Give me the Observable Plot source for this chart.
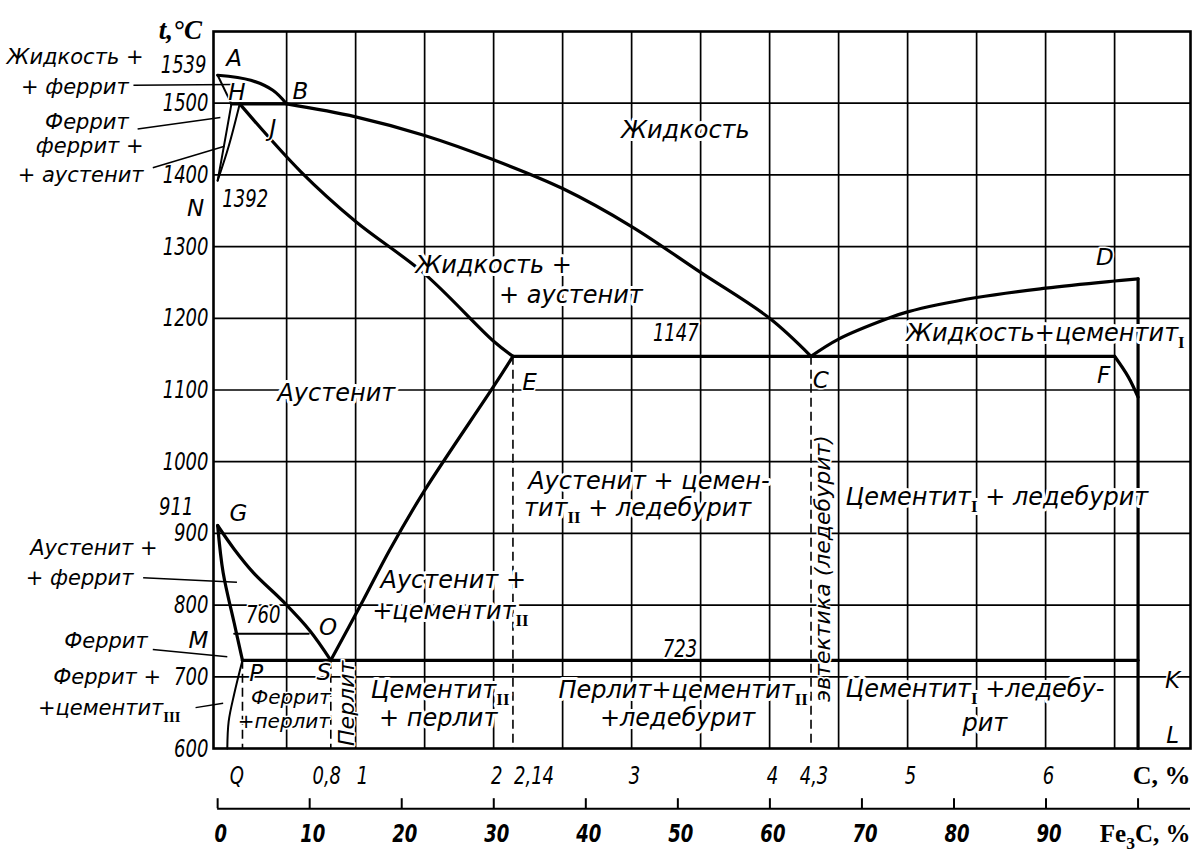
<!DOCTYPE html>
<html><head><meta charset="utf-8">
<script src="https://cdn.jsdelivr.net/npm/d3@7"></script>
<script src="https://cdn.jsdelivr.net/npm/@observablehq/plot@0.6"></script>
<style>body{margin:0;background:#fff}</style>
</head><body><div id="chart"></div>
<script>
// ---------- data (C, % ; temperature, °C) ----------
const C_FE3C = 6.67;
const gridC = [0.5,1,1.5,2,2.5,3,3.5,4,4.5,5,5.5,6,6.5];
const gridT = [700,800,900,1000,1100,1200,1300,1400,1500];
const tTicks = [600,700,800,900,1000,1100,1200,1300,1400,1500];
const cTicks = [2,3,4,4.3,5,6];
const cTickLabels = ["2","3","4","4,3","5","6"];
const cTickS = [0.8];
const cTickSLabels = ["0,8"];
const cTickStart = [1,2.14];
const cTickStartLabels = ["1","2,14"];
const fe3cTicks = [0,10,20,30,40,50,60,70,80,90];
const fe3cMarks = [0,10,20,30,40,50,60,70,80,90,100];

const lineAB = [[0,1539],[0.24,1532],[0.4,1518],[0.5,1499]];
const lineBC = [[0.5,1499],[1.0,1481],[1.5,1455],[2.0,1421],[2.5,1381],[3.0,1328],[3.5,1264],[4.0,1200],[4.3,1147]];
const lineCD = [[4.3,1147],[4.5,1171],[4.86,1200],[5.0,1209],[5.5,1229],[6.0,1242],[6.5,1252],[6.67,1255]];
const lineAH = [[0,1539],[0.1,1499]];
const lineHN = [[0.1,1499],[0.05,1445],[0,1392]];
const lineJN = [[0.16,1499],[0.08,1440],[0,1392]];
const lineHJB = [[0.1,1499],[0.5,1499]];
const lineJE = [[0.16,1499],[0.6,1405],[1.0,1335],[1.5,1262],[2.0,1168],[2.14,1147]];
const lineECF = [[2.14,1147],[6.5,1147]];
const lineFK = [[6.5,1147],[6.6,1118],[6.67,1090]];
const lineDL = [[6.67,1255],[6.67,600]];
const lineGS = [[0,911],[0.12,878],[0.26,845],[0.48,804],[0.67,764],[0.82,723]];
const lineGP = [[0,911],[0.04,845],[0.12,775],[0.18,723]];
const linePQ = [[0.18,723],[0.12,676],[0.08,638],[0.07,600]];
const lineMO = [[0.12,760],[0.66,760]];
const lineSE = [[0.82,723],[1.05,805],[1.25,878],[1.5,960],[2.0,1105],[2.14,1147]];
const linePSK = [[0.18,723],[6.67,723]];
const dashedC = [0.18,0.82,2.14,4.3];
const dashedTop = [723,723,1147,1147];

const centerLabels = [
  ["Жидкость",3.39,1462],["Жидкость +",2.0,1274],["+ аустенит",2.56,1232],
  ["Аустенит",0.86,1095],["рит",5.56,635]];
const smallCenterLabels = [["Феррит",0.53,671],["+перлит",0.48,637]];
const startLabels = [
  ["Жидкость+цементит_{I}",4.99,1179],["Аустенит + цемен-",2.25,972],
  ["тит_{II} + ледебурит",2.22,935],["Цементит_{I} + ледебурит",4.55,950],
  ["Аустенит +",1.18,834],["+цементит_{II}",1.12,792],["Цементит_{II}",1.11,681],
  ["+ перлит",1.17,642],["Перлит+цементит_{II}",2.47,681],["+ледебурит",2.77,642],
  ["Цементит_{I} +ледебу-",4.55,683]];
const rotatedLabels = [["Перлит",0.94,663],["эвтектика (ледебурит)",4.39,851]];
const leftLabels = [
  ["Жидкость +",-0.537,1564],["+ феррит",-0.645,1522],["Феррит",-0.645,1474],
  ["феррит +",-0.537,1440],["+ аустенит",-0.537,1399],["Аустенит +",-0.435,879],
  ["+ феррит",-0.61,838],["Феррит",-0.507,749],["Феррит +",-0.41,699],
  ["+цементит_{III}",-0.269,656]];
const pointLabels = [["A",0.12,1562],["B",0.6,1516],["H",0.14,1515],["J",0.4,1465],
  ["N",-0.16,1353],["G",0.15,928],["M",-0.14,751],["P",0.28,705],["S",0.77,706],
  ["O",0.8,769],["E",2.26,1110],["C",4.37,1113],["F",6.42,1120],["D",6.43,1285],
  ["K",6.92,695],["L",6.92,618]];
const numberLabels = [["1392",0.2,1367],["760",0.33,786],["723",3.35,739],["1147",3.32,1179]];
const leaders = [[-0.61,1525,0.12,1526],[-0.58,1464,0.02,1480],[-0.47,1410,0.05,1440],
  [-0.54,838,0.14,832],[-0.47,738,0.07,728],[-0.16,657,0.04,663]];

// ---------- build ----------
const solid = [["AB",lineAB],["BC",lineBC],["CD",lineCD],["HJB",lineHJB],["JE",lineJE],
  ["ECF",lineECF],["FK",lineFK],["DL",lineDL],["GS",lineGS],["GP",lineGP],["SE",lineSE],["PSK",linePSK]]
  .flatMap(([id,pts]) => pts.map(([c,t]) => ({id,c,t})));
const thin = [["AH",lineAH],["HN",lineHN],["JN",lineJN],["PQ",linePQ],["MO",lineMO]]
  .flatMap(([id,pts]) => pts.map(([c,t]) => ({id,c,t})));

const SANS = "'DejaVu Sans', sans-serif";
const NARROW = "'DejaVu Sans', 'Narrow', sans-serif";
const SERIF = "'Liberation Serif', 'DejaVu Serif', serif";
const halo = {stroke: "white", strokeWidth: 6, paintOrder: "stroke", fill: "black"};
const num = {fontFamily: NARROW, fontStyle: "italic", fontSize: 25};

const plot = Plot.plot({
  width: 1198, height: 859,
  marginLeft: 213, marginRight: 8, marginTop: 31, marginBottom: 111,
  x: {domain: [-0.03, 7.05], axis: null},
  y: {domain: [600, 1600], axis: null},
  marks: [
    Plot.ruleX(gridC, {stroke: "black", strokeWidth: 1.7}),
    Plot.ruleY(gridT, {stroke: "black", strokeWidth: 1.7}),
    Plot.frame({stroke: "black", strokeWidth: 2.6}),
    Plot.ruleX(dashedC, {x: d => d, y1: (d,i) => dashedTop[i], y2: 600, stroke: "black", strokeWidth: 1.6, strokeDasharray: "9,5"}),
    Plot.line(thin, {x: "c", y: "t", z: "id", curve: "catmull-rom", stroke: "black", strokeWidth: 2}),
    Plot.line(solid, {x: "c", y: "t", z: "id", curve: "catmull-rom", stroke: "black", strokeWidth: 3.2}),
    Plot.link(leaders, {x1: d => d[0], y1: d => d[1], x2: d => d[2], y2: d => d[3], stroke: "black", strokeWidth: 1.5}),
    // Fe3C axis
    Plot.ruleY([516], {x1: 0, x2: 7.05, stroke: "black", strokeWidth: 2}),
    Plot.ruleX(fe3cMarks, {x: v => v * C_FE3C / 100, y1: 516, y2: 530, stroke: "black", strokeWidth: 2}),
    Plot.text(fe3cTicks, {x: v => v * C_FE3C / 100, y: 481, text: d => String(d), ...num, fontWeight: "bold", dx: 3}),
    Plot.text(["Fe_{3}C, %"], {x: 7.05, y: 481, text: d => d, textAnchor: "end", fontFamily: SERIF, fontWeight: "bold", fontSize: 25}),
    // C axis labels
    Plot.text(cTicks, {x: d => d, y: 562, text: (d,i) => cTickLabels[i], dx: 3, ...num}),
    Plot.text(cTickS, {x: d => d, y: 562, text: (d,i) => cTickSLabels[i], textAnchor: "end", dx: 13, ...num}),
    Plot.text(cTickStart, {x: d => d, y: 562, text: (d,i) => cTickStartLabels[i], textAnchor: "start", dx: 1, ...num}),
    Plot.text(["Q"], {x: 0.14, y: 562, text: d => d, ...num}),
    Plot.text(["C, %"], {x: 7.05, y: 562, text: d => d, textAnchor: "end", fontFamily: SERIF, fontWeight: "bold", fontSize: 26}),
    // T axis labels
    Plot.text(tTicks, {x: -0.03, y: d => d, text: d => String(d), textAnchor: "end", dx: -5, ...num}),
    Plot.text([1539], {x: -0.03, y: d => d, text: d => String(d), textAnchor: "end", dx: -7, dy: -10, ...num}),
    Plot.text([911], {x: -0.03, y: d => d, text: d => String(d), textAnchor: "end", dx: -20, dy: -19, ...num}),
    Plot.text(["t,°C"], {x: -0.27, y: 1601, text: d => d, fontFamily: SERIF, fontStyle: "italic", fontWeight: "bold", fontSize: 27}),
    // region labels
    Plot.text(centerLabels, {x: d => d[1], y: d => d[2], text: d => d[0], fontFamily: SANS, fontStyle: "italic", fontSize: 24, ...halo}),
    Plot.text(smallCenterLabels, {x: d => d[1], y: d => d[2], text: d => d[0], fontFamily: SANS, fontStyle: "italic", fontSize: 20, ...halo, strokeWidth: 3}),
    Plot.text(startLabels, {x: d => d[1], y: d => d[2], text: d => d[0], textAnchor: "start", fontFamily: SANS, fontStyle: "italic", fontSize: 24, ...halo}),
    Plot.text(rotatedLabels, {x: d => d[1], y: d => d[2], text: d => d[0], rotate: -90, fontFamily: SANS, fontStyle: "italic", fontSize: 22, ...halo, strokeWidth: 3}),
    Plot.text(leftLabels, {x: d => d[1], y: d => d[2], text: d => d[0], textAnchor: "end", fontFamily: SANS, fontStyle: "italic", fontSize: 21}),
    Plot.text(pointLabels, {x: d => d[1], y: d => d[2], text: d => d[0], fontFamily: SANS, fontStyle: "italic", fontSize: 23, ...halo, strokeWidth: 3}),
    Plot.text(numberLabels, {x: d => d[1], y: d => d[2], text: d => d[0], ...num, ...halo, strokeWidth: 4})
  ]
});

// subscripts: convert "_{..}" into lowered tspans
const NS = "http://www.w3.org/2000/svg";
plot.querySelectorAll("text").forEach(t => {
  const s = t.textContent;
  if (!s.includes("_{")) return;
  while (t.firstChild) t.removeChild(t.firstChild);
  let lowered = false;
  s.split(/(_\{[^}]*\})/).forEach(p => {
    if (!p) return;
    const ts = document.createElementNS(NS, "tspan");
    if (p.startsWith("_{")) {
      ts.textContent = p.slice(2, -1);
      ts.setAttribute("dy", "7");
      ts.setAttribute("font-size", "70%");
      ts.setAttribute("font-weight", "bold");
      ts.setAttribute("font-style", "normal");
      ts.setAttribute("font-family", SERIF);
      lowered = true;
    } else {
      ts.textContent = p;
      if (lowered) { ts.setAttribute("dy", "-7"); lowered = false; }
    }
    t.appendChild(ts);
  });
});
document.getElementById("chart").appendChild(plot);
// condensed numerals: compress the numeric labels horizontally
plot.querySelectorAll("g[font-family*='Narrow'] text").forEach(t => {
  const len = t.getComputedTextLength();
  t.setAttribute("textLength", (len * 0.72).toFixed(1));
  t.setAttribute("lengthAdjust", "spacingAndGlyphs");
});
</script>
</body></html>
